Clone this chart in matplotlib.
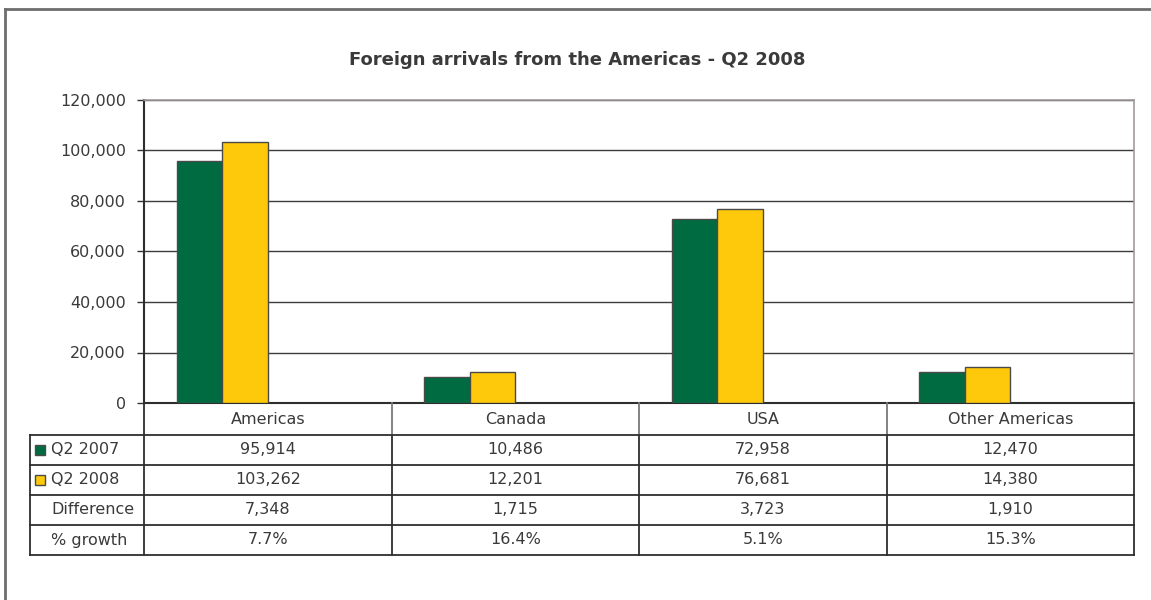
import numpy as np
import matplotlib.pyplot as plt
from matplotlib.patches import Rectangle

plt.rcParams['font.family'] = ['DejaVu Sans']

regions = ["Americas", "Canada", "USA", "Other Americas"]
q2_2007 = [95914, 10486, 72958, 12470]
q2_2008 = [103262, 12201, 76681, 14380]
difference = [7348, 1715, 3723, 1910]
growth = ["7.7%", "16.4%", "5.1%", "15.3%"]
yticks = [0, 20000, 40000, 60000, 80000, 100000, 120000]

green = "#006b41"
yellow = "#ffc90b"
edge = "#4a4a4a"
txt = "#3a3a3a"
fs = 11.5

W, H = 1151, 600
fig = plt.figure(figsize=(W / 100, H / 100), dpi=100)

# plot area in pixels: x 144..1134, y 100..403
ax = fig.add_axes([144 / W, 1 - 403 / H, (1134 - 144) / W, (403 - 100) / H])
x = np.arange(len(regions))
w = 0.184  # four slots per group, only the first two are drawn
ax.bar(x - 1.5 * w, q2_2007, w, color=green, edgecolor=edge, linewidth=1, zorder=3)
ax.bar(x - 0.5 * w, q2_2008, w, color=yellow, edgecolor=edge, linewidth=1, zorder=3)

ax.set_xlim(-0.5, 3.5)
ax.set_ylim(0, 120000)
ax.set_yticks(yticks)
ax.set_yticklabels([f"{v:,}" for v in yticks], fontsize=fs, color=txt)
ax.set_xticks([])
ax.tick_params(axis='y', length=5, width=1, color="#333333", pad=8)
ax.grid(axis='y', color="#3c3c3c", linewidth=1, zorder=0)
for s in ['top', 'right']:
    ax.spines[s].set_color("#a39a9a")
    ax.spines[s].set_linewidth(1.2)
ax.spines['left'].set_color("#2e2e2e")
ax.spines['left'].set_linewidth(1.5)
ax.spines['bottom'].set_color("#2e2e2e")
ax.spines['bottom'].set_linewidth(1.5)

# data table under the axis, drawn in figure pixels
def fx(px):
    return px / W

def fy(py):
    return 1 - py / H

fig.text(fx(577), fy(60), "Foreign arrivals from the Americas - Q2 2008", fontsize=13,
         fontweight='bold', color=txt, ha='center', va='center')

col_edges = np.linspace(144, 1134, len(regions) + 1)
row_edges = [403, 435, 465, 495, 525, 555]
label_left = 30
lc = "#2e2e2e"

def hline(y, x0, x1, col=lc):
    fig.add_artist(plt.Line2D([fx(x0), fx(x1)], [fy(y), fy(y)], color=col, lw=1.3))

def vline(xp, y0, y1, col=lc):
    fig.add_artist(plt.Line2D([fx(xp), fx(xp)], [fy(y0), fy(y1)], color=col, lw=1.3))

for r in row_edges[1:]:
    hline(r, label_left, 1134)
vline(label_left, row_edges[1], row_edges[-1])
vline(144, row_edges[0], row_edges[-1])
for c in col_edges[1:-1]:
    vline(c, row_edges[0], row_edges[1], col="#7a7a7a")
    vline(c, row_edges[1], row_edges[-1])
vline(1134, row_edges[0], row_edges[-1])

row_vals = [
    [f"{v:,}" for v in q2_2007],
    [f"{v:,}" for v in q2_2008],
    [f"{v:,}" for v in difference],
    growth,
]
row_names = ["Q2 2007", "Q2 2008", "Difference", "% growth"]
keys = [green, yellow, None, None]

for j, name in enumerate(regions):
    cx = (col_edges[j] + col_edges[j + 1]) / 2
    cy = (row_edges[0] + row_edges[1]) / 2
    fig.text(fx(cx), fy(cy), name, ha='center', va='center', fontsize=fs, color=txt)

for i, vals in enumerate(row_vals):
    cy = (row_edges[i + 1] + row_edges[i + 2]) / 2
    for j, v in enumerate(vals):
        cx = (col_edges[j] + col_edges[j + 1]) / 2
        fig.text(fx(cx), fy(cy), v, ha='center', va='center', fontsize=fs, color=txt)
    if keys[i] is not None:
        fig.add_artist(Rectangle((fx(35), fy(cy + 5)), fx(10), 10 / H,
                                 facecolor=keys[i], edgecolor=edge, lw=1))
    fig.text(fx(51), fy(cy), row_names[i], ha='left', va='center', fontsize=fs, color=txt)

# outer chart frame
fig.add_artist(plt.Line2D([fx(5), fx(W)], [fy(9), fy(9)], color="#6e6e6e", lw=2))
fig.add_artist(plt.Line2D([fx(5), fx(5)], [fy(9), 0], color="#6e6e6e", lw=2))

fig.savefig("out.png", dpi=100)
